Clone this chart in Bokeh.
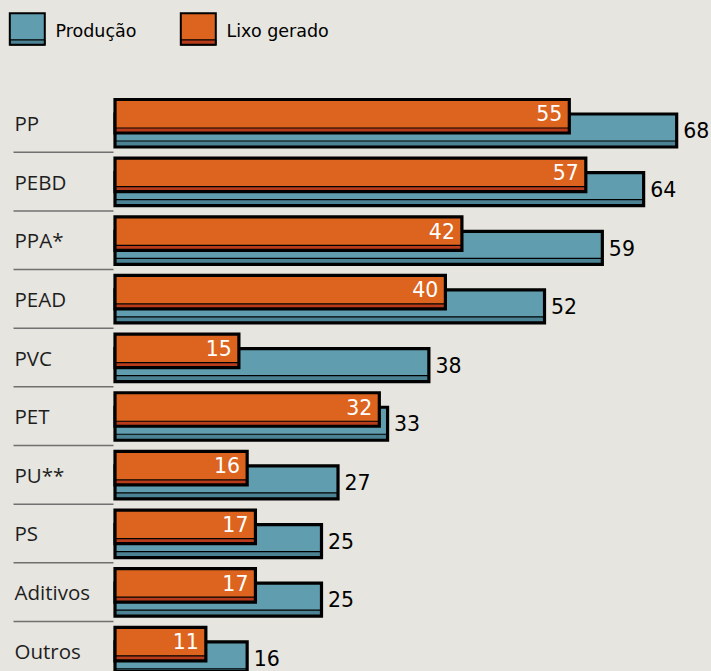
from bokeh.plotting import figure
from bokeh.models import Range1d, ColumnDataSource
from bokeh.embed import file_html
from bokeh.resources import INLINE
from bokeh.core.properties import value

# ---- data ----
categories = ["PP", "PEBD", "PPA*", "PEAD", "PVC", "PET", "PU**", "PS", "Aditivos", "Outros"]
producao = [68, 64, 59, 52, 38, 33, 27, 25, 25, 16]
lixo = [55, 57, 42, 40, 15, 32, 16, 17, 17, 11]
legend_labels = ["Produção", "Lixo gerado"]

# ---- layout constants (pixels) ----
W, H = 711, 671
SX = 8.26        # px per unit on x
X0PX = 114.5     # pixel of value 0
PITCH = 58.65    # px per row
ROW0PX = 122.4   # pixel of first row centre

BG = "#e6e5df"
BLUE = "#609daf"
BLUE_D = "#4b8395"
ORANGE = "#dc641f"
ORANGE_D = "#b83c1b"
INK = "#000000"
SEP = "#707070"
FONT = value("Open Sans")
NUMFONT = value("DejaVu Sans")


def dx(px):
    return px / SX


def dy(px):
    return px / PITCH


def px_x(px):
    return (px - X0PX) / SX


def px_y(py):
    return (py - ROW0PX) / PITCH


p = figure(width=W, height=H, output_backend="svg", toolbar_location=None,
           x_axis_type=None, y_axis_type=None, min_border=0,
           x_range=Range1d(px_x(0), px_x(W)),
           y_range=Range1d(px_y(H), px_y(0)))
p.background_fill_color = BG
p.border_fill_color = BG
p.outline_line_color = None

rows = list(range(len(categories)))


def bar(vals, top_px, bot_px, strip_px, fill, strip_fill):
    ctr = [r + dy((top_px + bot_px) / 2) for r in rows]
    hgt = dy(bot_px - top_px)
    sctr = [r + dy((strip_px + bot_px) / 2) for r in rows]
    shgt = dy(bot_px - strip_px)
    src = ColumnDataSource(dict(y=ctr, sy=sctr, v=vals))
    p.hbar(y="y", left=0, right="v", height=hgt, source=src,
           fill_color=fill, line_color=None)
    p.hbar(y="sy", left=0, right="v", height=shgt, source=src,
           fill_color=strip_fill, line_color=INK, line_width=1.2)
    p.hbar(y="y", left=0, right="v", height=hgt, source=src,
           fill_color=None, line_color=INK, line_width=3.2, line_join="miter")


# production bars (behind)
bar(producao, -8.9, 24.1, 18.1, BLUE, BLUE_D)
# waste bars (front)
bar(lixo, -23.4, 10.1, 5.1, ORANGE, ORANGE_D)

# separators between rows
p.segment(x0=px_x(13), x1=px_x(113),
          y0=[r + 0.5 for r in rows[:-1]], y1=[r + 0.5 for r in rows[:-1]],
          line_color=SEP, line_width=1.5)

# category labels
p.text(x=px_x(14), y=[r + dy(0) for r in rows], text=categories,
       text_font=FONT, text_font_size="20.5px", text_color="#1e1e1e",
       text_baseline="middle", text_align="left")

# production value labels
p.text(x=[v + dx(6.5) for v in producao], y=[r + dy(7.3) for r in rows],
       text=[str(v) for v in producao], text_font=NUMFONT, text_font_size="20.5px",
       text_color=INK, text_baseline="middle", text_align="left")

# waste value labels
p.text(x=[v - dx(7) for v in lixo], y=[r + dy(-9.5) for r in rows],
       text=[str(v) for v in lixo], text_font=NUMFONT, text_font_size="20.5px",
       text_color="#ffffff", text_baseline="middle", text_align="right")

# legend
leg_fill = [BLUE, ORANGE]
leg_strip = [BLUE_D, ORANGE_D]
leg_left = [9.3, 180.3]
for i in range(2):
    l, r = px_x(leg_left[i]), px_x(leg_left[i] + 35)
    p.quad(left=l, right=r, top=px_y(12.7), bottom=px_y(44.3),
           fill_color=leg_fill[i], line_color=None)
    p.quad(left=l, right=r, top=px_y(39.3), bottom=px_y(44.3),
           fill_color=leg_strip[i], line_color=INK, line_width=1.2)
    p.quad(left=l, right=r, top=px_y(12.7), bottom=px_y(44.3),
           fill_color=None, line_color=INK, line_width=2, line_join="miter")
p.text(x=[px_x(55), px_x(226)], y=[px_y(30), px_y(30)], text=legend_labels,
       text_font=NUMFONT, text_font_size="17.5px",
       text_color=INK, text_baseline="middle", text_align="left")

tmpl = "{% block postamble %}<style>html,body{margin:0;padding:0;background:#e6e5df;overflow:hidden;}</style>{% endblock %}"
open("out.html", "w").write(file_html(p, INLINE, template=tmpl))
